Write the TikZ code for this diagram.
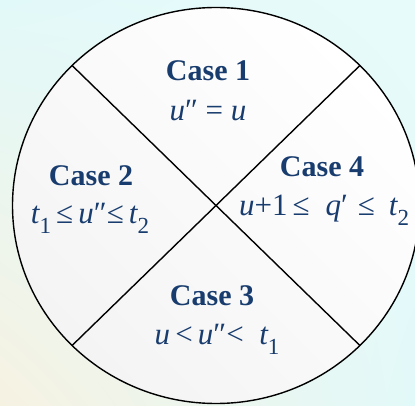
\documentclass[tikz,border=0pt]{standalone}
\usepackage{fontspec}
\setmainfont{Liberation Serif}
\usetikzlibrary{shadings}
\definecolor{navy}{RGB}{24,60,110}
\definecolor{bgcyan}{RGB}{226,249,249}
\definecolor{bgcyanr}{RGB}{232,251,251}
\definecolor{bgwarm}{RGB}{246,242,226}
\definecolor{inner}{RGB}{244,244,244}
\newcommand\sbs[1]{\raisebox{-0.32em}{\fontsize{23}{23}\selectfont #1}}
\newcommand\iv[1]{{\itshape #1}}
\tikzset{
  casehead/.style={text=navy, font=\fontsize{30}{34}\selectfont\bfseries, inner sep=0pt, anchor=center},
  caseexpr/.style={text=navy, font=\fontsize{31}{35}\selectfont, inner sep=0pt, anchor=center},
  rim/.style={draw=black, line width=1.4pt},
  divider/.style={draw=black, line width=1.4pt}
}
\begin{document}
\begin{tikzpicture}[x=1pt,y=-1pt]
\useasboundingbox (0,0) rectangle (415,406);
\shade[upper left=bgcyan, upper right=bgcyanr, lower left=bgwarm, lower right=bgcyan] (0,0) rectangle (415,406);
\begin{scope}
\clip (0,0) rectangle (415,406);
\shade[left color=inner, right color=white, shading angle=135] (216,205.5) ellipse [x radius=203.5pt, y radius=198pt];
\draw[rim] (216,205.5) ellipse [x radius=203.5pt, y radius=198pt];
\end{scope}
\coordinate (tl) at (72.1,65.5);
\coordinate (tr) at (359.9,65.5);
\coordinate (bl) at (72.1,345.5);
\coordinate (br) at (359.9,345.5);
\draw[divider] (tl) -- (br);
\draw[divider] (tr) -- (bl);
\node[casehead] (h1) at (208,71) {Case 1};
\node[caseexpr] (e1) at (208,111) {\iv{u}″ = \iv{u}};
\node[casehead] (h2) at (91,176) {Case 2};
\node[caseexpr] (e2) at (90,218) {\iv{t}\sbs{1}\,≤\,\iv{u}″≤\,\iv{t}\sbs{2}};
\node[casehead] (h4) at (322,167) {Case 4};
\node[caseexpr, anchor=west] (e4) at (239,210) {\iv{u}+1\hspace{5pt}≤\hspace{16pt}\iv{q}′\hspace{10pt}≤\hspace{14pt}\iv{t}\sbs{2}};
\node[casehead] (h3) at (212,296) {Case 3};
\node[caseexpr] (e3) at (217,339) {\iv{u}\,<\,\iv{u}″<\ \ \iv{t}\sbs{1}};
\end{tikzpicture}
\end{document}
